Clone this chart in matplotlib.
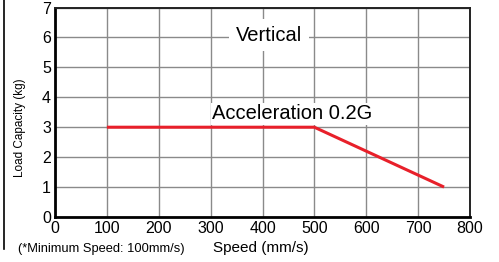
import matplotlib
matplotlib.use("Agg")
import matplotlib.pyplot as plt
from matplotlib.lines import Line2D

# data
speed = [100, 500, 750]
load = [3, 3, 1]
x_ticks = [0, 100, 200, 300, 400, 500, 600, 700, 800]
y_ticks = [0, 1, 2, 3, 4, 5, 6, 7]

plt.rcParams['font.family'] = ['Liberation Sans', 'DejaVu Sans']

W, H = 499, 262
fig = plt.figure(figsize=(W / 100, H / 100), dpi=100)
ax = fig.add_axes([55 / W, 1 - 217 / H, 415 / W, 209.5 / H])

ax.plot(speed, load, color='#e8202a', lw=2.2, solid_capstyle='butt', zorder=3)

ax.set_xlim(0, 800)
ax.set_ylim(0, 7)
ax.set_xticks(x_ticks)
ax.set_yticks(y_ticks)
ax.grid(True, color='#8a8a8a', lw=1.0)
ax.tick_params(length=0, labelsize=11.5, pad=3)
for s in ['left', 'bottom']:
    ax.spines[s].set_linewidth(2.0)
for s in ['top', 'right']:
    ax.spines[s].set_linewidth(1.4)
    ax.spines[s].set_color('#222222')

ax.text(412, 6.08, 'Vertical', fontsize=14.5, ha='center', va='center',
        bbox=dict(facecolor='white', edgecolor='none', pad=5), zorder=4)
ax.text(457, 3.45, 'Acceleration 0.2G', fontsize=14.5, ha='center', va='center',
        bbox=dict(facecolor='white', edgecolor='none', pad=1), zorder=4)

fig.text(20 / W, 1 - 128 / H, 'Load Capacity (kg)', fontsize=8.5, rotation=90,
         ha='center', va='center')
fig.text(261 / W, 1 - 248 / H, 'Speed (mm/s)', fontsize=11, ha='center', va='center')
fig.text(101 / W, 1 - 249 / H, '(*Minimum Speed: 100mm/s)', fontsize=9.3,
         ha='center', va='center')

fig.add_artist(Line2D([4 / W, 4 / W], [1.0, 1 - 249 / H],
                      color='black', lw=1.2, transform=fig.transFigure))

fig.savefig('out.png', dpi=100)
